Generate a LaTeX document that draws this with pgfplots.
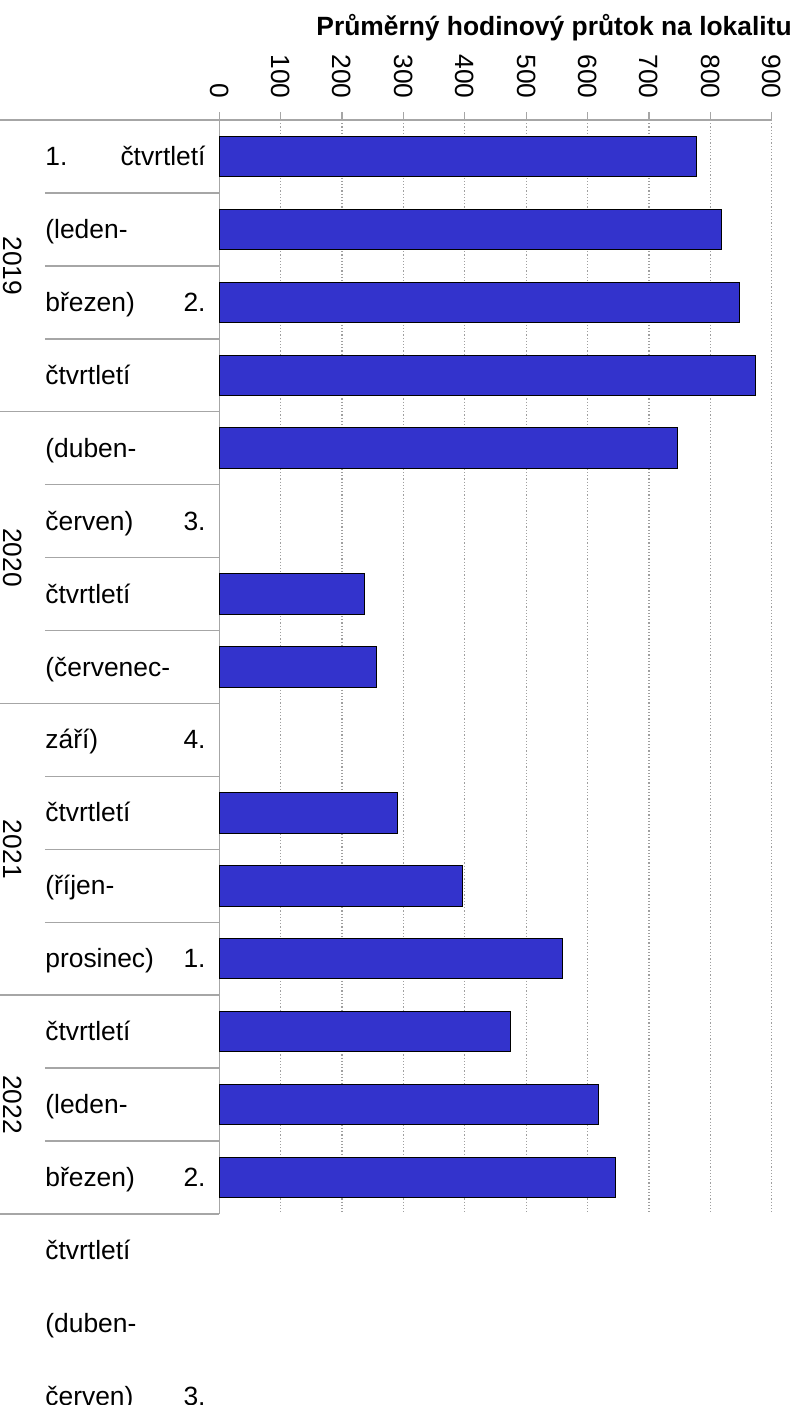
\documentclass[border=0pt]{standalone}
\usepackage{fontspec}
\setmainfont{Liberation Sans}
\usepackage{pgfplots}
\pgfplotsset{compat=1.18}
\definecolor{barblue}{HTML}{3333CC}
\definecolor{rulegray}{HTML}{A6A6A6}

% one row of the category column: left part and right-aligned part
\newcommand{\rowtext}[3]{%
  \node[anchor=base west, inner sep=0pt] at ([yshift=-4.5pt]axis cs:-284,#1) {#2};
  \node[anchor=base east, inner sep=0pt] at ([yshift=-4.5pt]axis cs:-21.7,#1) {#3};}

\begin{document}
\begin{tikzpicture}[font=\fontsize{13.2}{15}\selectfont]
\begin{axis}[
  at={(109.65pt,642.5pt)}, anchor=north west,
  scale only axis, width=276.2pt, height=547pt,
  xmin=0, xmax=900, ymin=0.5, ymax=15.5, y dir=reverse,
  axis x line*=top, axis y line*=left,
  axis line style={-, draw=rulegray, line width=0.75pt},
  xtick={0,100,...,900}, ytick=\empty,
  tick align=outside, major tick length=4pt,
  xtick style={draw=rulegray, line width=0.6pt},
  xmajorgrids, grid style={draw=gray!75, line width=0.6pt, densely dotted},
  /pgf/number format/assume math mode=true,
  xticklabel style={rotate=-90, anchor=east, inner sep=0pt, font=\fontsize{13.2}{15}\selectfont},
  xticklabel shift=6.5pt,
  clip=false,
  xbar, bar width=0.555,
]
\addplot[fill=barblue, draw=black, line width=0.5pt] coordinates {
  (777,1) (819,2) (847,3) (874,4) (747,5)
  (236,7) (256,8)
  (291,10) (396,11) (559,12)
  (474,13) (618,14) (645,15)};

% row separators in the category column
\pgfplotsinvokeforeach{1.5,2.5,3.5,5.5,6.5,7.5,9.5,10.5,11.5,13.5,14.5}{
  \draw[rulegray, line width=0.75pt] (axis cs:-284,#1) -- (axis cs:0,#1);}
\pgfplotsinvokeforeach{0.5,4.5,8.5,12.5,15.5}{
  \draw[rulegray, line width=0.75pt] (axis cs:-357.3,#1) -- (axis cs:0,#1);}

% years
\node[rotate=-90] at (axis cs:-336.1,2.5) {2019};
\node[rotate=-90] at (axis cs:-336.1,6.5) {2020};
\node[rotate=-90] at (axis cs:-336.1,10.5) {2021};
\node[rotate=-90] at (axis cs:-336.1,14) {2022};

% category text
\rowtext{1}{1.}{čtvrtletí}
\rowtext{2}{(leden-}{}
\rowtext{3}{březen)}{2.}
\rowtext{4}{čtvrtletí}{}
\rowtext{5}{(duben-}{}
\rowtext{6}{červen)}{3.}
\rowtext{7}{čtvrtletí}{}
\rowtext{8}{(červenec-}{}
\rowtext{9}{září)}{4.}
\rowtext{10}{čtvrtletí}{}
\rowtext{11}{(říjen-}{}
\rowtext{12}{prosinec)}{1.}
\rowtext{13}{čtvrtletí}{}
\rowtext{14}{(leden-}{}
\rowtext{15}{březen)}{2.}
\rowtext{16}{čtvrtletí}{}
\rowtext{17}{(duben-}{}
\rowtext{18}{červen)}{3.}
\end{axis}
\node[anchor=base west, inner sep=0pt, font=\fontsize{13.2}{15}\selectfont\bfseries]
  at (158pt,684.5pt) {Průměrný hodinový průtok na lokalitu};
\pgfresetboundingbox
\path[use as bounding box] (0,0) rectangle (402.5pt,702.5pt);
\end{tikzpicture}
\end{document}
